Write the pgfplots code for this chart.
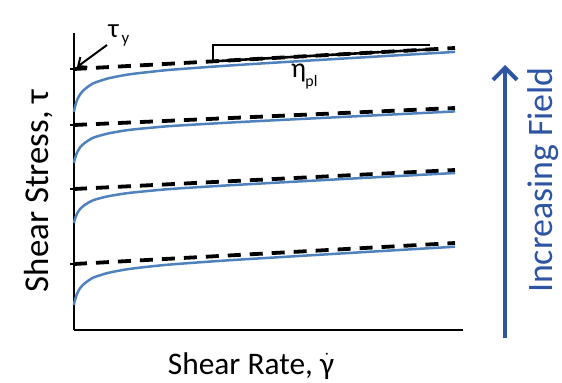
\documentclass[border=0pt]{standalone}
\usepackage{fontspec}
\setmainfont{Carlito}
\usepackage{pgfplots}
\pgfplotsset{compat=1.18}
\usetikzlibrary{arrows.meta}
\definecolor{curveblue}{RGB}{79,129,189}
\definecolor{fieldblue}{RGB}{46,84,164}
\newcommand{\gdot}{\ensuremath{\dot{\mbox{γ}}}}
\begin{document}
\begin{tikzpicture}[x=1bp,y=1bp]
\useasboundingbox (0,0) rectangle (562,382);
\fill[white] (0,0) rectangle (562,382);
\begin{axis}[
  at={(74bp,52bp)}, anchor=south west,
  scale only axis, width=389bp, height=297bp,
  xmin=74, xmax=463, ymin=52, ymax=349,
  axis x line=bottom, axis y line=left,
  axis line style={-, line width=2.6bp, black},
  xtick=\empty, ytick={118,193,257,313}, yticklabels={},
  tick align=center, major tick length=8bp,
  every tick/.style={black, line width=2bp},
  clip=false,
  xlabel={Shear Rate, \gdot},
  ylabel={Shear Stress, τ},
  xlabel style={at={(axis description cs:0.455,-0.1482)}, anchor=base, font=\fontsize{31.5}{36}\selectfont},
  ylabel style={at={(axis description cs:-0.0668,0.468)}, anchor=base, rotate=0, font=\fontsize{35}{40}\selectfont},
]
% Bingham (dashed) lines
\addplot[black, line width=3.8bp, dash pattern=on 13bp off 9bp] coordinates {(74,313) (455,334)};
\addplot[black, line width=3.8bp, dash pattern=on 13bp off 9bp] coordinates {(74,257) (455,274)};
\addplot[black, line width=3.8bp, dash pattern=on 13bp off 9bp] coordinates {(74,193) (455,212)};
\addplot[black, line width=3.8bp, dash pattern=on 13bp off 9bp] coordinates {(74,118) (455,139)};
% measured curves
\addplot[curveblue, line width=2.5bp, smooth] coordinates {
(74,270.0) (74.3,272.2) (75,275.2) (76,278.7) (77,281.8) (78.5,284.9) (80,287.5) (82,290.0) (84,292.1) (88,295.3) (93,298.6) (100,301.1) (109,303.8) (127,307.3) (149,310.0) (173,312.4) (224,316.1) (274,319.3) (364,324.7) (455,330.1)};
\addplot[curveblue, line width=2.5bp, smooth] coordinates {
(74,219.0) (74.3,220.9) (75,223.6) (76,226.7) (77,229.4) (78.5,232.1) (80,234.5) (82,236.7) (84,238.5) (88,241.3) (93,244.2) (100,246.4) (109,248.7) (127,251.8) (149,254.1) (173,256.1) (224,259.1) (274,261.7) (364,266.1) (455,270.6)};
\addplot[curveblue, line width=2.5bp, smooth] coordinates {
(74,159.0) (74.3,160.7) (75,163.1) (76,165.9) (77,168.3) (78.5,170.8) (80,172.9) (82,174.9) (84,176.5) (88,179.1) (93,181.7) (100,183.8) (109,185.9) (127,188.8) (149,191.1) (173,193.2) (224,196.4) (274,199.2) (364,204.1) (455,209.0)};
\addplot[curveblue, line width=2.5bp, smooth] coordinates {
(74,77.0) (74.3,79.1) (75,82.0) (76,85.3) (77,88.2) (78.5,91.2) (80,93.7) (82,96.1) (84,98.1) (88,101.1) (93,104.3) (100,106.7) (109,109.3) (127,112.7) (149,115.4) (173,117.7) (224,121.4) (274,124.5) (364,129.9) (455,135.3)};
% slope triangle
\addplot[black, line width=2bp] coordinates {(213,320.7) (213,337) (430,337)};
\addplot[black, line width=2.6bp] coordinates {(213,320.7) (430,332.6)};
% annotations
\draw[black, line width=2bp, -{Straight Barb[length=7bp,width=12bp]}] (107,337) -- (77,315);
\node[font=\fontsize{27}{30}\selectfont] at (113.5,351) {τ};
\node[font=\fontsize{17}{20}\selectfont] at (125.5,341) {y};
\node[font=\fontsize{28}{30}\selectfont] at (298.5,309) {η};
\node[font=\fontsize{16}{18}\selectfont] at (311.5,300) {pl};
\draw[fieldblue, line width=4bp, -{Straight Barb[length=12bp,width=24bp]}] (505,44) -- (505,317);
\node[fieldblue, rotate=90, anchor=base, font=\fontsize{36}{40}\selectfont] at (552,202) {Increasing Field};
\end{axis}
\end{tikzpicture}
\end{document}
